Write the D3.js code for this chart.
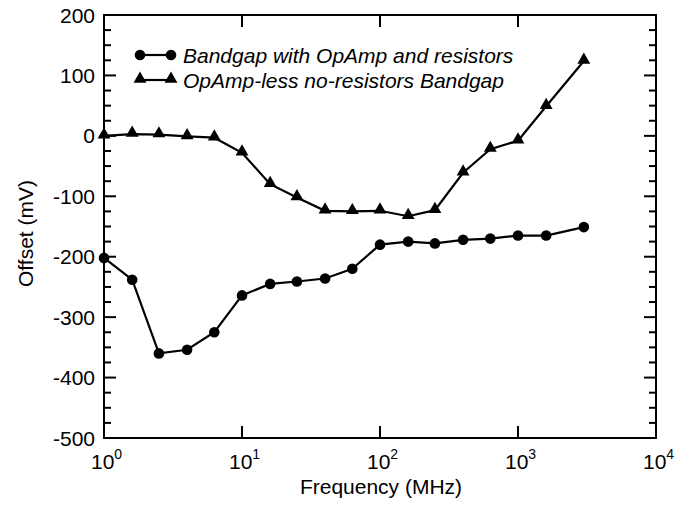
<!DOCTYPE html>
<html>
<head>
<meta charset="utf-8">
<script src="https://cdn.jsdelivr.net/npm/d3@7"></script>
<style>
  body { margin: 0; background: #fff; }
  text { font-family: "Liberation Sans", Arial, sans-serif; fill: #000; }
</style>
</head>
<body>
<div id="chart"></div>
<script>
const freq = [1, 1.6, 2.5, 4, 6.3, 10, 16, 25, 40, 63, 100, 160, 250, 400, 630, 1000, 1600, 3000];
const withOpAmp = [-202, -238, -360, -354, -325, -264, -245, -241, -236, -220, -180, -175, -178, -172, -170, -165, -165, -151];
const opAmpLess = [0, 3, 2, -1, -3, -28, -80, -102, -124, -125, -124, -133, -123, -61, -22, -8, 49, 124];
const seriesNames = ["Bandgap with OpAmp and resistors", "OpAmp-less no-resistors Bandgap"];
const xTicks = [1, 10, 100, 1000, 10000];
const yTicks = [200, 100, 0, -100, -200, -300, -400, -500];

const margins = { top: 15, right: 26, bottom: 68, left: 104 };
const W = 682, H = 506;
const width = W - margins.left - margins.right;
const height = H - margins.top - margins.bottom;

const x_scale = d3.scaleLog().domain([1, 10000]).range([0, width]);
const y_scale = d3.scaleLinear().domain([-500, 200]).range([height, 0]);

const svg = d3.select("#chart").append("svg")
  .attr("width", W).attr("height", H);

const g = svg.append("g")
  .attr("transform", "translate(" + margins.left + "," + margins.top + ")");

// ticks (inward), major and minor on y, majors only on x
const yMinor = d3.range(-500, 201, 25);
const tickG = g.append("g").attr("stroke", "#000").attr("stroke-width", 2);
yMinor.forEach(v => {
  const len = v % 100 === 0 ? 12 : 7;
  tickG.append("line").attr("x1", 0).attr("x2", len)
    .attr("y1", y_scale(v)).attr("y2", y_scale(v));
  tickG.append("line").attr("x1", width).attr("x2", width - len)
    .attr("y1", y_scale(v)).attr("y2", y_scale(v));
});
xTicks.forEach(v => {
  tickG.append("line").attr("x1", x_scale(v)).attr("x2", x_scale(v))
    .attr("y1", height).attr("y2", height - 12);
  tickG.append("line").attr("x1", x_scale(v)).attr("x2", x_scale(v))
    .attr("y1", 0).attr("y2", 12);
});

g.append("rect")
  .attr("width", width).attr("height", height)
  .attr("fill", "none").attr("stroke", "#000").attr("stroke-width", 2);

// y labels
g.selectAll(".ylab").data(yTicks).enter().append("text")
  .attr("class", "ylab")
  .attr("x", -9).attr("y", d => y_scale(d))
  .attr("dy", "0.36em")
  .attr("text-anchor", "end")
  .style("font-size", "21px")
  .text(d => d);

// x labels 10^n
const xl = g.selectAll(".xlab").data(xTicks).enter().append("text")
  .attr("class", "xlab")
  .attr("x", d => x_scale(d) - 13).attr("y", height + 31)
  .style("font-size", "21px");
xl.append("tspan").text("10");
xl.append("tspan").attr("dy", -10).style("font-size", "14px")
  .text(d => Math.round(Math.log10(d)));

// axis titles
svg.append("text")
  .attr("x", margins.left + width / 2 + 1).attr("y", 494)
  .attr("text-anchor", "middle").style("font-size", "21px")
  .text("Frequency (MHz)");
svg.append("text")
  .attr("transform", "translate(33," + (margins.top + height / 2 + 7) + ") rotate(-90)")
  .attr("text-anchor", "middle").style("font-size", "21px")
  .text("Offset (mV)");

const line = d3.line()
  .x(d => x_scale(d[0]))
  .y(d => y_scale(d[1]));

const data1 = freq.map((f, i) => [f, withOpAmp[i]]);
const data2 = freq.map((f, i) => [f, opAmpLess[i]]);

const tri = d3.symbol().type(d3.symbolTriangle).size(72);

g.append("path").datum(data2).attr("d", line)
  .attr("fill", "none").attr("stroke", "#000").attr("stroke-width", 2.2);
g.selectAll(".tri").data(data2).enter().append("path")
  .attr("class", "tri")
  .attr("transform", d => "translate(" + x_scale(d[0]) + "," + (y_scale(d[1]) - 1) + ")")
  .attr("d", tri).attr("fill", "#000");

g.append("path").datum(data1).attr("d", line)
  .attr("fill", "none").attr("stroke", "#000").attr("stroke-width", 2.2);
g.selectAll(".dot").data(data1).enter().append("circle")
  .attr("class", "dot")
  .attr("cx", d => x_scale(d[0])).attr("cy", d => y_scale(d[1]))
  .attr("r", 5.3).attr("fill", "#000");

// legend
const lg = svg.append("g");
const legY = [55, 80];
seriesNames.forEach((name, i) => {
  const y = legY[i];
  lg.append("line").attr("x1", 140).attr("x2", 171).attr("y1", y).attr("y2", y)
    .attr("stroke", "#000").attr("stroke-width", 2.2);
  [140, 171].forEach(cx => {
    if (i === 0) {
      lg.append("circle").attr("cx", cx).attr("cy", y).attr("r", 5.3).attr("fill", "#000");
    } else {
      lg.append("path").attr("transform", "translate(" + cx + "," + (y - 1) + ")")
        .attr("d", tri).attr("fill", "#000");
    }
  });
  lg.append("text").attr("x", 183).attr("y", y).attr("dy", "0.36em")
    .style("font-size", "21px").style("font-style", "italic")
    .text(name);
});
</script>
</body>
</html>
